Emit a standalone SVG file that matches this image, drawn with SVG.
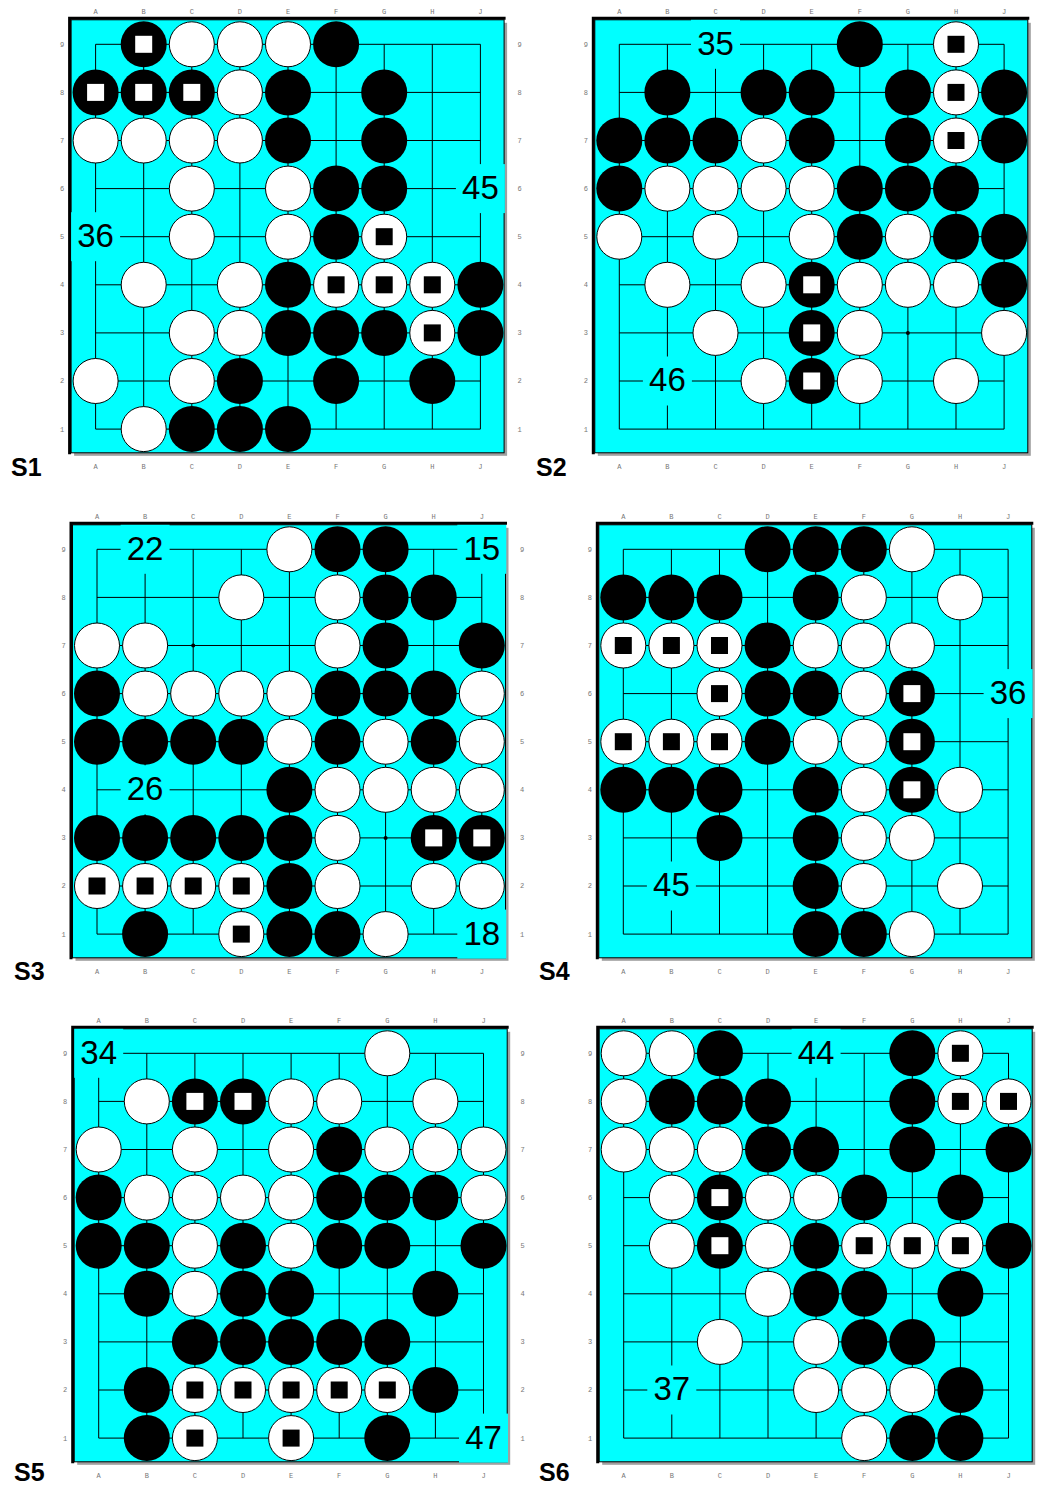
<svg xmlns="http://www.w3.org/2000/svg" width="1040" height="1487" viewBox="0 0 1040 1487">
<style>
.cl{font-family:"Liberation Mono","Courier New",monospace;font-size:7px;fill:#777;text-anchor:middle}
.lb{font-family:"Liberation Sans",Arial,sans-serif;font-size:33px;text-anchor:middle;fill:#000}
.st{font-family:"Liberation Sans",Arial,sans-serif;font-size:25px;font-weight:bold;fill:#000}
.lr{fill:#00ffff}
.grid{fill:none;stroke:#000;stroke-width:1}
</style>
<defs>
<g id="frame">
<rect x="-21.5" y="-21.5" width="433" height="433" fill="#a0a0a0"/>
<rect x="-24.5" y="-24.5" width="433" height="433" fill="#00ffff" stroke="#000" stroke-width="1"/>
<path d="M-26 410V-26H410" fill="none" stroke="#000" stroke-width="3"/>
</g>
<path id="grid" class="grid" d="M0 0H384.8M0 48.1H384.8M0 96.2H384.8M0 144.3H384.8M0 192.4H384.8M0 240.5H384.8M0 288.6H384.8M0 336.7H384.8M0 384.8H384.8M0 0V384.8M48.1 0V384.8M96.2 0V384.8M144.3 0V384.8M192.4 0V384.8M240.5 0V384.8M288.6 0V384.8M336.7 0V384.8M384.8 0V384.8"/>
<circle id="b" r="23" fill="#000"/>
<circle id="w" r="22.5" fill="#fff" stroke="#000" stroke-width="1"/>
<g id="bm"><circle r="23" fill="#000"/><rect x="-8.5" y="-8.5" width="17" height="17" fill="#fff"/></g>
<g id="wm"><circle r="22.5" fill="#fff" stroke="#000" stroke-width="1"/><rect x="-8.5" y="-8.5" width="17" height="17" fill="#000"/></g>
<circle id="dot" r="2" fill="#000"/>
</defs>

<!-- ===================== S1 ===================== -->
<g id="S1" transform="translate(95.6 44.3)">
<use href="#frame"/>
<g id="S1-connectors"><use href="#grid"/></g>
<g id="S1-coords">
<text class="cl" x="0" y="-30">A</text><text class="cl" x="48.1" y="-30">B</text><text class="cl" x="96.2" y="-30">C</text><text class="cl" x="144.3" y="-30">D</text><text class="cl" x="192.4" y="-30">E</text><text class="cl" x="240.5" y="-30">F</text><text class="cl" x="288.6" y="-30">G</text><text class="cl" x="336.7" y="-30">H</text><text class="cl" x="384.8" y="-30">J</text>
<text class="cl" x="0" y="425">A</text><text class="cl" x="48.1" y="425">B</text><text class="cl" x="96.2" y="425">C</text><text class="cl" x="144.3" y="425">D</text><text class="cl" x="192.4" y="425">E</text><text class="cl" x="240.5" y="425">F</text><text class="cl" x="288.6" y="425">G</text><text class="cl" x="336.7" y="425">H</text><text class="cl" x="384.8" y="425">J</text>
<text class="cl" x="-33.5" y="2.5">9</text><text class="cl" x="-33.5" y="50.6">8</text><text class="cl" x="-33.5" y="98.7">7</text><text class="cl" x="-33.5" y="146.8">6</text><text class="cl" x="-33.5" y="194.9">5</text><text class="cl" x="-33.5" y="243">4</text><text class="cl" x="-33.5" y="291.1">3</text><text class="cl" x="-33.5" y="339.2">2</text><text class="cl" x="-33.5" y="387.3">1</text>
<text class="cl" x="424" y="2.5">9</text><text class="cl" x="424" y="50.6">8</text><text class="cl" x="424" y="98.7">7</text><text class="cl" x="424" y="146.8">6</text><text class="cl" x="424" y="194.9">5</text><text class="cl" x="424" y="243">4</text><text class="cl" x="424" y="291.1">3</text><text class="cl" x="424" y="339.2">2</text><text class="cl" x="424" y="387.3">1</text>
</g>
<g id="S1-label-45"><rect class="lr" x="360.3" y="119.8" width="49" height="49"/><text class="lb" x="384.8" y="154.8">45</text></g>
<g id="S1-label-36"><rect class="lr" x="-24.5" y="167.9" width="49" height="49"/><text class="lb" x="0" y="202.9">36</text></g>
<g id="S1-stones">
<use href="#bm" x="48.1" y="0"/><use href="#w" x="96.2" y="0"/><use href="#w" x="144.3" y="0"/><use href="#w" x="192.4" y="0"/><use href="#b" x="240.5" y="0"/>
<use href="#bm" x="0" y="48.1"/><use href="#bm" x="48.1" y="48.1"/><use href="#bm" x="96.2" y="48.1"/><use href="#w" x="144.3" y="48.1"/><use href="#b" x="192.4" y="48.1"/><use href="#b" x="288.6" y="48.1"/>
<use href="#w" x="0" y="96.2"/><use href="#w" x="48.1" y="96.2"/><use href="#w" x="96.2" y="96.2"/><use href="#w" x="144.3" y="96.2"/><use href="#b" x="192.4" y="96.2"/><use href="#b" x="288.6" y="96.2"/>
<use href="#w" x="96.2" y="144.3"/><use href="#w" x="192.4" y="144.3"/><use href="#b" x="240.5" y="144.3"/><use href="#b" x="288.6" y="144.3"/>
<use href="#w" x="96.2" y="192.4"/><use href="#w" x="192.4" y="192.4"/><use href="#b" x="240.5" y="192.4"/><use href="#wm" x="288.6" y="192.4"/>
<use href="#w" x="48.1" y="240.5"/><use href="#w" x="144.3" y="240.5"/><use href="#b" x="192.4" y="240.5"/><use href="#wm" x="240.5" y="240.5"/><use href="#wm" x="288.6" y="240.5"/><use href="#wm" x="336.7" y="240.5"/><use href="#b" x="384.8" y="240.5"/>
<use href="#w" x="96.2" y="288.6"/><use href="#w" x="144.3" y="288.6"/><use href="#b" x="192.4" y="288.6"/><use href="#b" x="240.5" y="288.6"/><use href="#b" x="288.6" y="288.6"/><use href="#wm" x="336.7" y="288.6"/><use href="#b" x="384.8" y="288.6"/>
<use href="#w" x="0" y="336.7"/><use href="#w" x="96.2" y="336.7"/><use href="#b" x="144.3" y="336.7"/><use href="#b" x="240.5" y="336.7"/><use href="#b" x="336.7" y="336.7"/>
<use href="#w" x="48.1" y="384.8"/><use href="#b" x="96.2" y="384.8"/><use href="#b" x="144.3" y="384.8"/><use href="#b" x="192.4" y="384.8"/>
</g>
</g>

<!-- ===================== S2 ===================== -->
<g id="S2" transform="translate(619.3 44.3)">
<use href="#frame"/>
<g id="S2-connectors"><use href="#grid"/><use href="#dot" x="288.6" y="288.6"/></g>
<g id="S2-coords">
<text class="cl" x="0" y="-30">A</text><text class="cl" x="48.1" y="-30">B</text><text class="cl" x="96.2" y="-30">C</text><text class="cl" x="144.3" y="-30">D</text><text class="cl" x="192.4" y="-30">E</text><text class="cl" x="240.5" y="-30">F</text><text class="cl" x="288.6" y="-30">G</text><text class="cl" x="336.7" y="-30">H</text><text class="cl" x="384.8" y="-30">J</text>
<text class="cl" x="0" y="425">A</text><text class="cl" x="48.1" y="425">B</text><text class="cl" x="96.2" y="425">C</text><text class="cl" x="144.3" y="425">D</text><text class="cl" x="192.4" y="425">E</text><text class="cl" x="240.5" y="425">F</text><text class="cl" x="288.6" y="425">G</text><text class="cl" x="336.7" y="425">H</text><text class="cl" x="384.8" y="425">J</text>
<text class="cl" x="-33.5" y="2.5">9</text><text class="cl" x="-33.5" y="50.6">8</text><text class="cl" x="-33.5" y="98.7">7</text><text class="cl" x="-33.5" y="146.8">6</text><text class="cl" x="-33.5" y="194.9">5</text><text class="cl" x="-33.5" y="243">4</text><text class="cl" x="-33.5" y="291.1">3</text><text class="cl" x="-33.5" y="339.2">2</text><text class="cl" x="-33.5" y="387.3">1</text>
</g>
<g id="S2-label-35"><rect class="lr" x="71.7" y="-24.5" width="49" height="49"/><text class="lb" x="96.2" y="10.5">35</text></g>
<g id="S2-label-46"><rect class="lr" x="23.6" y="312.2" width="49" height="49"/><text class="lb" x="48.1" y="347.2">46</text></g>
<g id="S2-stones">
<use href="#b" x="240.5" y="0"/><use href="#wm" x="336.7" y="0"/>
<use href="#b" x="48.1" y="48.1"/><use href="#b" x="144.3" y="48.1"/><use href="#b" x="192.4" y="48.1"/><use href="#b" x="288.6" y="48.1"/><use href="#wm" x="336.7" y="48.1"/><use href="#b" x="384.8" y="48.1"/>
<use href="#b" x="0" y="96.2"/><use href="#b" x="48.1" y="96.2"/><use href="#b" x="96.2" y="96.2"/><use href="#w" x="144.3" y="96.2"/><use href="#b" x="192.4" y="96.2"/><use href="#b" x="288.6" y="96.2"/><use href="#wm" x="336.7" y="96.2"/><use href="#b" x="384.8" y="96.2"/>
<use href="#b" x="0" y="144.3"/><use href="#w" x="48.1" y="144.3"/><use href="#w" x="96.2" y="144.3"/><use href="#w" x="144.3" y="144.3"/><use href="#w" x="192.4" y="144.3"/><use href="#b" x="240.5" y="144.3"/><use href="#b" x="288.6" y="144.3"/><use href="#b" x="336.7" y="144.3"/>
<use href="#w" x="0" y="192.4"/><use href="#w" x="96.2" y="192.4"/><use href="#w" x="192.4" y="192.4"/><use href="#b" x="240.5" y="192.4"/><use href="#w" x="288.6" y="192.4"/><use href="#b" x="336.7" y="192.4"/><use href="#b" x="384.8" y="192.4"/>
<use href="#w" x="48.1" y="240.5"/><use href="#w" x="144.3" y="240.5"/><use href="#bm" x="192.4" y="240.5"/><use href="#w" x="240.5" y="240.5"/><use href="#w" x="288.6" y="240.5"/><use href="#w" x="336.7" y="240.5"/><use href="#b" x="384.8" y="240.5"/>
<use href="#w" x="96.2" y="288.6"/><use href="#bm" x="192.4" y="288.6"/><use href="#w" x="240.5" y="288.6"/><use href="#w" x="384.8" y="288.6"/>
<use href="#w" x="144.3" y="336.7"/><use href="#bm" x="192.4" y="336.7"/><use href="#w" x="240.5" y="336.7"/><use href="#w" x="336.7" y="336.7"/>
</g>
</g>

<!-- ===================== S3 ===================== -->
<g id="S3" transform="translate(97 549.3)">
<use href="#frame"/>
<g id="S3-connectors"><use href="#grid"/><use href="#dot" x="96.2" y="96.2"/><use href="#dot" x="288.6" y="288.6"/></g>
<g id="S3-coords">
<text class="cl" x="0" y="-30">A</text><text class="cl" x="48.1" y="-30">B</text><text class="cl" x="96.2" y="-30">C</text><text class="cl" x="144.3" y="-30">D</text><text class="cl" x="192.4" y="-30">E</text><text class="cl" x="240.5" y="-30">F</text><text class="cl" x="288.6" y="-30">G</text><text class="cl" x="336.7" y="-30">H</text><text class="cl" x="384.8" y="-30">J</text>
<text class="cl" x="0" y="425">A</text><text class="cl" x="48.1" y="425">B</text><text class="cl" x="96.2" y="425">C</text><text class="cl" x="144.3" y="425">D</text><text class="cl" x="192.4" y="425">E</text><text class="cl" x="240.5" y="425">F</text><text class="cl" x="288.6" y="425">G</text><text class="cl" x="336.7" y="425">H</text><text class="cl" x="384.8" y="425">J</text>
<text class="cl" x="-33.5" y="2.5">9</text><text class="cl" x="-33.5" y="50.6">8</text><text class="cl" x="-33.5" y="98.7">7</text><text class="cl" x="-33.5" y="146.8">6</text><text class="cl" x="-33.5" y="194.9">5</text><text class="cl" x="-33.5" y="243">4</text><text class="cl" x="-33.5" y="291.1">3</text><text class="cl" x="-33.5" y="339.2">2</text><text class="cl" x="-33.5" y="387.3">1</text>
<text class="cl" x="425" y="2.5">9</text><text class="cl" x="425" y="50.6">8</text><text class="cl" x="425" y="98.7">7</text><text class="cl" x="425" y="146.8">6</text><text class="cl" x="425" y="194.9">5</text><text class="cl" x="425" y="243">4</text><text class="cl" x="425" y="291.1">3</text><text class="cl" x="425" y="339.2">2</text><text class="cl" x="425" y="387.3">1</text>
</g>
<g id="S3-label-22"><rect class="lr" x="23.6" y="-24.5" width="49" height="49"/><text class="lb" x="48.1" y="10.5">22</text></g>
<g id="S3-label-15"><rect class="lr" x="360.3" y="-24.5" width="49" height="49"/><text class="lb" x="384.8" y="10.5">15</text></g>
<g id="S3-label-26"><rect class="lr" x="23.6" y="216" width="49" height="49"/><text class="lb" x="48.1" y="251">26</text></g>
<g id="S3-label-18"><rect class="lr" x="360.3" y="360.3" width="49" height="49"/><text class="lb" x="384.8" y="395.3">18</text></g>
<g id="S3-stones">
<use href="#w" x="192.4" y="0"/><use href="#b" x="240.5" y="0"/><use href="#b" x="288.6" y="0"/>
<use href="#w" x="144.3" y="48.1"/><use href="#w" x="240.5" y="48.1"/><use href="#b" x="288.6" y="48.1"/><use href="#b" x="336.7" y="48.1"/>
<use href="#w" x="0" y="96.2"/><use href="#w" x="48.1" y="96.2"/><use href="#w" x="240.5" y="96.2"/><use href="#b" x="288.6" y="96.2"/><use href="#b" x="384.8" y="96.2"/>
<use href="#b" x="0" y="144.3"/><use href="#w" x="48.1" y="144.3"/><use href="#w" x="96.2" y="144.3"/><use href="#w" x="144.3" y="144.3"/><use href="#w" x="192.4" y="144.3"/><use href="#b" x="240.5" y="144.3"/><use href="#b" x="288.6" y="144.3"/><use href="#b" x="336.7" y="144.3"/><use href="#w" x="384.8" y="144.3"/>
<use href="#b" x="0" y="192.4"/><use href="#b" x="48.1" y="192.4"/><use href="#b" x="96.2" y="192.4"/><use href="#b" x="144.3" y="192.4"/><use href="#w" x="192.4" y="192.4"/><use href="#b" x="240.5" y="192.4"/><use href="#w" x="288.6" y="192.4"/><use href="#b" x="336.7" y="192.4"/><use href="#w" x="384.8" y="192.4"/>
<use href="#b" x="192.4" y="240.5"/><use href="#w" x="240.5" y="240.5"/><use href="#w" x="288.6" y="240.5"/><use href="#w" x="336.7" y="240.5"/><use href="#w" x="384.8" y="240.5"/>
<use href="#b" x="0" y="288.6"/><use href="#b" x="48.1" y="288.6"/><use href="#b" x="96.2" y="288.6"/><use href="#b" x="144.3" y="288.6"/><use href="#b" x="192.4" y="288.6"/><use href="#w" x="240.5" y="288.6"/><use href="#bm" x="336.7" y="288.6"/><use href="#bm" x="384.8" y="288.6"/>
<use href="#wm" x="0" y="336.7"/><use href="#wm" x="48.1" y="336.7"/><use href="#wm" x="96.2" y="336.7"/><use href="#wm" x="144.3" y="336.7"/><use href="#b" x="192.4" y="336.7"/><use href="#w" x="240.5" y="336.7"/><use href="#w" x="336.7" y="336.7"/><use href="#w" x="384.8" y="336.7"/>
<use href="#b" x="48.1" y="384.8"/><use href="#wm" x="144.3" y="384.8"/><use href="#b" x="192.4" y="384.8"/><use href="#b" x="240.5" y="384.8"/><use href="#w" x="288.6" y="384.8"/>
</g>
</g>

<!-- ===================== S4 ===================== -->
<g id="S4" transform="translate(623.3 549.3)">
<use href="#frame"/>
<g id="S4-connectors"><use href="#grid"/></g>
<g id="S4-coords">
<text class="cl" x="0" y="-30">A</text><text class="cl" x="48.1" y="-30">B</text><text class="cl" x="96.2" y="-30">C</text><text class="cl" x="144.3" y="-30">D</text><text class="cl" x="192.4" y="-30">E</text><text class="cl" x="240.5" y="-30">F</text><text class="cl" x="288.6" y="-30">G</text><text class="cl" x="336.7" y="-30">H</text><text class="cl" x="384.8" y="-30">J</text>
<text class="cl" x="0" y="425">A</text><text class="cl" x="48.1" y="425">B</text><text class="cl" x="96.2" y="425">C</text><text class="cl" x="144.3" y="425">D</text><text class="cl" x="192.4" y="425">E</text><text class="cl" x="240.5" y="425">F</text><text class="cl" x="288.6" y="425">G</text><text class="cl" x="336.7" y="425">H</text><text class="cl" x="384.8" y="425">J</text>
<text class="cl" x="-33.5" y="2.5">9</text><text class="cl" x="-33.5" y="50.6">8</text><text class="cl" x="-33.5" y="98.7">7</text><text class="cl" x="-33.5" y="146.8">6</text><text class="cl" x="-33.5" y="194.9">5</text><text class="cl" x="-33.5" y="243">4</text><text class="cl" x="-33.5" y="291.1">3</text><text class="cl" x="-33.5" y="339.2">2</text><text class="cl" x="-33.5" y="387.3">1</text>
</g>
<g id="S4-label-36"><rect class="lr" x="360.3" y="119.8" width="49" height="49"/><text class="lb" x="384.8" y="154.8">36</text></g>
<g id="S4-label-45"><rect class="lr" x="23.6" y="312.2" width="49" height="49"/><text class="lb" x="48.1" y="347.2">45</text></g>
<g id="S4-stones">
<use href="#b" x="144.3" y="0"/><use href="#b" x="192.4" y="0"/><use href="#b" x="240.5" y="0"/><use href="#w" x="288.6" y="0"/>
<use href="#b" x="0" y="48.1"/><use href="#b" x="48.1" y="48.1"/><use href="#b" x="96.2" y="48.1"/><use href="#b" x="192.4" y="48.1"/><use href="#w" x="240.5" y="48.1"/><use href="#w" x="336.7" y="48.1"/>
<use href="#wm" x="0" y="96.2"/><use href="#wm" x="48.1" y="96.2"/><use href="#wm" x="96.2" y="96.2"/><use href="#b" x="144.3" y="96.2"/><use href="#w" x="192.4" y="96.2"/><use href="#w" x="240.5" y="96.2"/><use href="#w" x="288.6" y="96.2"/>
<use href="#wm" x="96.2" y="144.3"/><use href="#b" x="144.3" y="144.3"/><use href="#b" x="192.4" y="144.3"/><use href="#w" x="240.5" y="144.3"/><use href="#bm" x="288.6" y="144.3"/>
<use href="#wm" x="0" y="192.4"/><use href="#wm" x="48.1" y="192.4"/><use href="#wm" x="96.2" y="192.4"/><use href="#b" x="144.3" y="192.4"/><use href="#w" x="192.4" y="192.4"/><use href="#w" x="240.5" y="192.4"/><use href="#bm" x="288.6" y="192.4"/>
<use href="#b" x="0" y="240.5"/><use href="#b" x="48.1" y="240.5"/><use href="#b" x="96.2" y="240.5"/><use href="#b" x="192.4" y="240.5"/><use href="#w" x="240.5" y="240.5"/><use href="#bm" x="288.6" y="240.5"/><use href="#w" x="336.7" y="240.5"/>
<use href="#b" x="96.2" y="288.6"/><use href="#b" x="192.4" y="288.6"/><use href="#w" x="240.5" y="288.6"/><use href="#w" x="288.6" y="288.6"/>
<use href="#b" x="192.4" y="336.7"/><use href="#w" x="240.5" y="336.7"/><use href="#w" x="336.7" y="336.7"/>
<use href="#b" x="192.4" y="384.8"/><use href="#b" x="240.5" y="384.8"/><use href="#w" x="288.6" y="384.8"/>
</g>
</g>

<!-- ===================== S5 ===================== -->
<g id="S5" transform="translate(98.7 1053.3)">
<use href="#frame"/>
<g id="S5-connectors"><use href="#grid"/></g>
<g id="S5-coords">
<text class="cl" x="0" y="-30">A</text><text class="cl" x="48.1" y="-30">B</text><text class="cl" x="96.2" y="-30">C</text><text class="cl" x="144.3" y="-30">D</text><text class="cl" x="192.4" y="-30">E</text><text class="cl" x="240.5" y="-30">F</text><text class="cl" x="288.6" y="-30">G</text><text class="cl" x="336.7" y="-30">H</text><text class="cl" x="384.8" y="-30">J</text>
<text class="cl" x="0" y="425">A</text><text class="cl" x="48.1" y="425">B</text><text class="cl" x="96.2" y="425">C</text><text class="cl" x="144.3" y="425">D</text><text class="cl" x="192.4" y="425">E</text><text class="cl" x="240.5" y="425">F</text><text class="cl" x="288.6" y="425">G</text><text class="cl" x="336.7" y="425">H</text><text class="cl" x="384.8" y="425">J</text>
<text class="cl" x="-33.5" y="2.5">9</text><text class="cl" x="-33.5" y="50.6">8</text><text class="cl" x="-33.5" y="98.7">7</text><text class="cl" x="-33.5" y="146.8">6</text><text class="cl" x="-33.5" y="194.9">5</text><text class="cl" x="-33.5" y="243">4</text><text class="cl" x="-33.5" y="291.1">3</text><text class="cl" x="-33.5" y="339.2">2</text><text class="cl" x="-33.5" y="387.3">1</text>
<text class="cl" x="424" y="2.5">9</text><text class="cl" x="424" y="50.6">8</text><text class="cl" x="424" y="98.7">7</text><text class="cl" x="424" y="146.8">6</text><text class="cl" x="424" y="194.9">5</text><text class="cl" x="424" y="243">4</text><text class="cl" x="424" y="291.1">3</text><text class="cl" x="424" y="339.2">2</text><text class="cl" x="424" y="387.3">1</text>
</g>
<g id="S5-label-34"><rect class="lr" x="-24.5" y="-24.5" width="49" height="49"/><text class="lb" x="0" y="10.5">34</text></g>
<g id="S5-label-47"><rect class="lr" x="360.3" y="360.3" width="49" height="49"/><text class="lb" x="384.8" y="395.3">47</text></g>
<g id="S5-stones">
<use href="#w" x="288.6" y="0"/>
<use href="#w" x="48.1" y="48.1"/><use href="#bm" x="96.2" y="48.1"/><use href="#bm" x="144.3" y="48.1"/><use href="#w" x="192.4" y="48.1"/><use href="#w" x="240.5" y="48.1"/><use href="#w" x="336.7" y="48.1"/>
<use href="#w" x="0" y="96.2"/><use href="#w" x="96.2" y="96.2"/><use href="#w" x="192.4" y="96.2"/><use href="#b" x="240.5" y="96.2"/><use href="#w" x="288.6" y="96.2"/><use href="#w" x="336.7" y="96.2"/><use href="#w" x="384.8" y="96.2"/>
<use href="#b" x="0" y="144.3"/><use href="#w" x="48.1" y="144.3"/><use href="#w" x="96.2" y="144.3"/><use href="#w" x="144.3" y="144.3"/><use href="#w" x="192.4" y="144.3"/><use href="#b" x="240.5" y="144.3"/><use href="#b" x="288.6" y="144.3"/><use href="#b" x="336.7" y="144.3"/><use href="#w" x="384.8" y="144.3"/>
<use href="#b" x="0" y="192.4"/><use href="#b" x="48.1" y="192.4"/><use href="#w" x="96.2" y="192.4"/><use href="#b" x="144.3" y="192.4"/><use href="#w" x="192.4" y="192.4"/><use href="#b" x="240.5" y="192.4"/><use href="#b" x="288.6" y="192.4"/><use href="#b" x="384.8" y="192.4"/>
<use href="#b" x="48.1" y="240.5"/><use href="#w" x="96.2" y="240.5"/><use href="#b" x="144.3" y="240.5"/><use href="#b" x="192.4" y="240.5"/><use href="#b" x="336.7" y="240.5"/>
<use href="#b" x="96.2" y="288.6"/><use href="#b" x="144.3" y="288.6"/><use href="#b" x="192.4" y="288.6"/><use href="#b" x="240.5" y="288.6"/><use href="#b" x="288.6" y="288.6"/>
<use href="#b" x="48.1" y="336.7"/><use href="#wm" x="96.2" y="336.7"/><use href="#wm" x="144.3" y="336.7"/><use href="#wm" x="192.4" y="336.7"/><use href="#wm" x="240.5" y="336.7"/><use href="#wm" x="288.6" y="336.7"/><use href="#b" x="336.7" y="336.7"/>
<use href="#b" x="48.1" y="384.8"/><use href="#wm" x="96.2" y="384.8"/><use href="#wm" x="192.4" y="384.8"/><use href="#b" x="288.6" y="384.8"/>
</g>
</g>

<!-- ===================== S6 ===================== -->
<g id="S6" transform="translate(623.7 1053.3)">
<use href="#frame"/>
<g id="S6-connectors"><use href="#grid"/></g>
<g id="S6-coords">
<text class="cl" x="0" y="-30">A</text><text class="cl" x="48.1" y="-30">B</text><text class="cl" x="96.2" y="-30">C</text><text class="cl" x="144.3" y="-30">D</text><text class="cl" x="192.4" y="-30">E</text><text class="cl" x="240.5" y="-30">F</text><text class="cl" x="288.6" y="-30">G</text><text class="cl" x="336.7" y="-30">H</text><text class="cl" x="384.8" y="-30">J</text>
<text class="cl" x="0" y="425">A</text><text class="cl" x="48.1" y="425">B</text><text class="cl" x="96.2" y="425">C</text><text class="cl" x="144.3" y="425">D</text><text class="cl" x="192.4" y="425">E</text><text class="cl" x="240.5" y="425">F</text><text class="cl" x="288.6" y="425">G</text><text class="cl" x="336.7" y="425">H</text><text class="cl" x="384.8" y="425">J</text>
<text class="cl" x="-33.5" y="2.5">9</text><text class="cl" x="-33.5" y="50.6">8</text><text class="cl" x="-33.5" y="98.7">7</text><text class="cl" x="-33.5" y="146.8">6</text><text class="cl" x="-33.5" y="194.9">5</text><text class="cl" x="-33.5" y="243">4</text><text class="cl" x="-33.5" y="291.1">3</text><text class="cl" x="-33.5" y="339.2">2</text><text class="cl" x="-33.5" y="387.3">1</text>
</g>
<g id="S6-label-44"><rect class="lr" x="167.9" y="-24.5" width="49" height="49"/><text class="lb" x="192.4" y="10.5">44</text></g>
<g id="S6-label-37"><rect class="lr" x="23.6" y="312.2" width="49" height="49"/><text class="lb" x="48.1" y="347.2">37</text></g>
<g id="S6-stones">
<use href="#w" x="0" y="0"/><use href="#w" x="48.1" y="0"/><use href="#b" x="96.2" y="0"/><use href="#b" x="288.6" y="0"/><use href="#wm" x="336.7" y="0"/>
<use href="#w" x="0" y="48.1"/><use href="#b" x="48.1" y="48.1"/><use href="#b" x="96.2" y="48.1"/><use href="#b" x="144.3" y="48.1"/><use href="#b" x="288.6" y="48.1"/><use href="#wm" x="336.7" y="48.1"/><use href="#wm" x="384.8" y="48.1"/>
<use href="#w" x="0" y="96.2"/><use href="#w" x="48.1" y="96.2"/><use href="#w" x="96.2" y="96.2"/><use href="#b" x="144.3" y="96.2"/><use href="#b" x="192.4" y="96.2"/><use href="#b" x="288.6" y="96.2"/><use href="#b" x="384.8" y="96.2"/>
<use href="#w" x="48.1" y="144.3"/><use href="#bm" x="96.2" y="144.3"/><use href="#w" x="144.3" y="144.3"/><use href="#w" x="192.4" y="144.3"/><use href="#b" x="240.5" y="144.3"/><use href="#b" x="336.7" y="144.3"/>
<use href="#w" x="48.1" y="192.4"/><use href="#bm" x="96.2" y="192.4"/><use href="#w" x="144.3" y="192.4"/><use href="#b" x="192.4" y="192.4"/><use href="#wm" x="240.5" y="192.4"/><use href="#wm" x="288.6" y="192.4"/><use href="#wm" x="336.7" y="192.4"/><use href="#b" x="384.8" y="192.4"/>
<use href="#w" x="144.3" y="240.5"/><use href="#b" x="192.4" y="240.5"/><use href="#b" x="240.5" y="240.5"/><use href="#b" x="336.7" y="240.5"/>
<use href="#w" x="96.2" y="288.6"/><use href="#w" x="192.4" y="288.6"/><use href="#b" x="240.5" y="288.6"/><use href="#b" x="288.6" y="288.6"/>
<use href="#w" x="192.4" y="336.7"/><use href="#w" x="240.5" y="336.7"/><use href="#w" x="288.6" y="336.7"/><use href="#b" x="336.7" y="336.7"/>
<use href="#w" x="240.5" y="384.8"/><use href="#b" x="288.6" y="384.8"/><use href="#b" x="336.7" y="384.8"/>
</g>
</g>

<g id="titles">
<text class="st" x="11" y="476">S1</text>
<text class="st" x="536" y="476">S2</text>
<text class="st" x="14" y="980">S3</text>
<text class="st" x="539" y="980">S4</text>
<text class="st" x="14" y="1481">S5</text>
<text class="st" x="539" y="1481">S6</text>
</g>
</svg>
